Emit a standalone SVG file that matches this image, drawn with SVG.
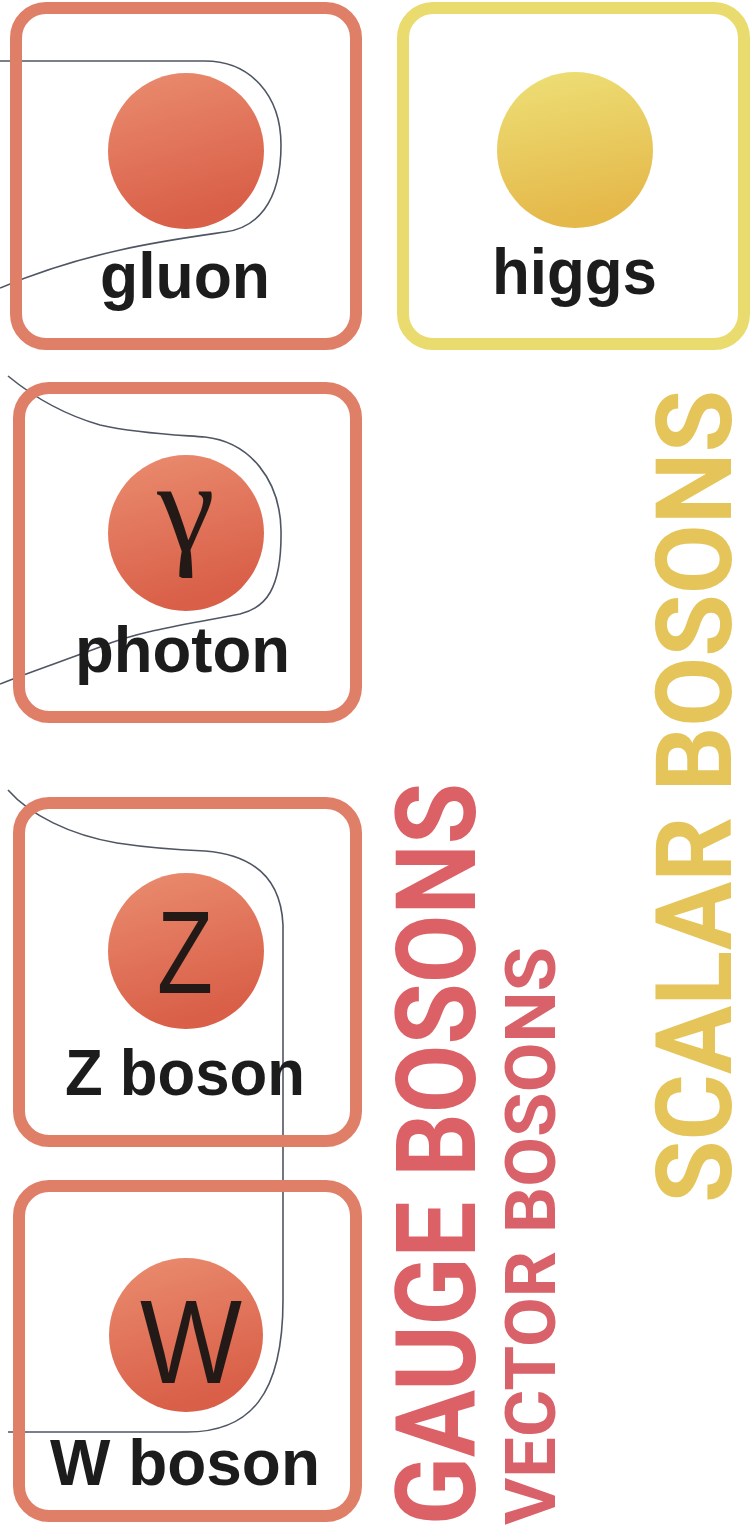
<svg xmlns="http://www.w3.org/2000/svg" width="754" height="1527" viewBox="0 0 754 1527">
  <defs>
    <linearGradient id="gaugeBall" x1="0" y1="0" x2="0.3" y2="1">
      <stop offset="0" stop-color="#ea8d70"/>
      <stop offset="1" stop-color="#d95f48"/>
    </linearGradient>
    <linearGradient id="higgsBall" x1="0" y1="0" x2="0.2" y2="1">
      <stop offset="0" stop-color="#ede077"/>
      <stop offset="1" stop-color="#e5b84a"/>
    </linearGradient>
    <style>
      .gbox { fill: none; stroke: #e07f68; stroke-width: 12; }
      .hbox { fill: none; stroke: #eadb6e; stroke-width: 12; }
      .gball { fill: url(#gaugeBall); }
      .hball { fill: url(#higgsBall); }
      .label { font-family: "Liberation Sans", Arial, sans-serif; font-weight: 700; font-size: 64px; fill: #1c1c1c; }
      .sym { font-family: "Liberation Sans", Arial, sans-serif; font-weight: 400; fill: #231a18; }
      .gamma { font-family: "Liberation Serif", "DejaVu Serif", serif; fill: #231a18; }
      .conn { fill: none; stroke: #4f5663; stroke-width: 1.6; }
      .vert { font-family: Roboto, "Liberation Sans", sans-serif; font-weight: 700; }
    </style>
  </defs>
  <rect width="754" height="1527" fill="#ffffff"/>

  <g id="connectors">
    <path class="conn" d="M0,61 H205 C250,61 281,95 281,145 C281,205 255,228 225,232 C170,240 90,250 0,288"/>
    <path class="conn" d="M8,376 C25,390 55,412 100,425 C140,434 180,435 205,437 C250,442 280,480 281,530 C282,590 265,608 240,614 C200,622 140,630 100,647 C60,662 30,672 0,684"/>
    <path class="conn" d="M8,790 C30,815 70,835 117,843 C150,848 180,850 205,851 C255,855 281,880 283,925 V1300 C283,1395 250,1432 187,1432 H8"/>
  </g>

  <g id="gluon">
    <rect class="gbox" x="16" y="8" width="340" height="336" rx="30"/>
    <circle class="gball" cx="186" cy="151" r="78"/>
    <text class="label" x="100" y="298" textLength="170" lengthAdjust="spacingAndGlyphs">gluon</text>
  </g>

  <g id="higgs">
    <rect class="hbox" x="403" y="8" width="341" height="336" rx="30"/>
    <circle class="hball" cx="575" cy="150" r="78"/>
    <text class="label" x="492" y="294" textLength="165" lengthAdjust="spacingAndGlyphs">higgs</text>
  </g>

  <g id="photon">
    <rect class="gbox" x="19" y="388" width="337" height="329" rx="30"/>
    <circle class="gball" cx="186" cy="533" r="78"/>
    <text class="gamma" x="186" y="550" font-size="130" text-anchor="middle">γ</text>
    <text class="label" x="75" y="672" textLength="215" lengthAdjust="spacingAndGlyphs">photon</text>
  </g>

  <g id="zboson">
    <rect class="gbox" x="19" y="803" width="337" height="338" rx="30"/>
    <circle class="gball" cx="186" cy="951" r="78"/>
    <text class="sym" x="157" y="993" font-size="116" textLength="56" lengthAdjust="spacingAndGlyphs">Z</text>
    <text class="label" x="65" y="1095" textLength="240" lengthAdjust="spacingAndGlyphs">Z boson</text>
  </g>

  <g id="wboson">
    <rect class="gbox" x="19" y="1186" width="337" height="330" rx="30"/>
    <circle class="gball" cx="186" cy="1335" r="77"/>
    <text class="sym" x="140" y="1383" font-size="118" textLength="102" lengthAdjust="spacingAndGlyphs">W</text>
    <text class="label" x="50" y="1485" textLength="270" lengthAdjust="spacingAndGlyphs">W boson</text>
  </g>

  <g id="gauge-label">
    <text class="vert" transform="translate(475,1525) rotate(-90)" font-size="112" fill="#dc6167" textLength="742" lengthAdjust="spacingAndGlyphs">GAUGE BOSONS</text>
    <text class="vert" transform="translate(555,1525) rotate(-90)" font-size="70" fill="#d9626a" textLength="578" lengthAdjust="spacingAndGlyphs">VECTOR BOSONS</text>
  </g>

  <g id="scalar-label">
    <text class="vert" transform="translate(731,1203) rotate(-90)" font-size="106" fill="#e5c55a" textLength="813" lengthAdjust="spacingAndGlyphs">SCALAR BOSONS</text>
  </g>
</svg>
